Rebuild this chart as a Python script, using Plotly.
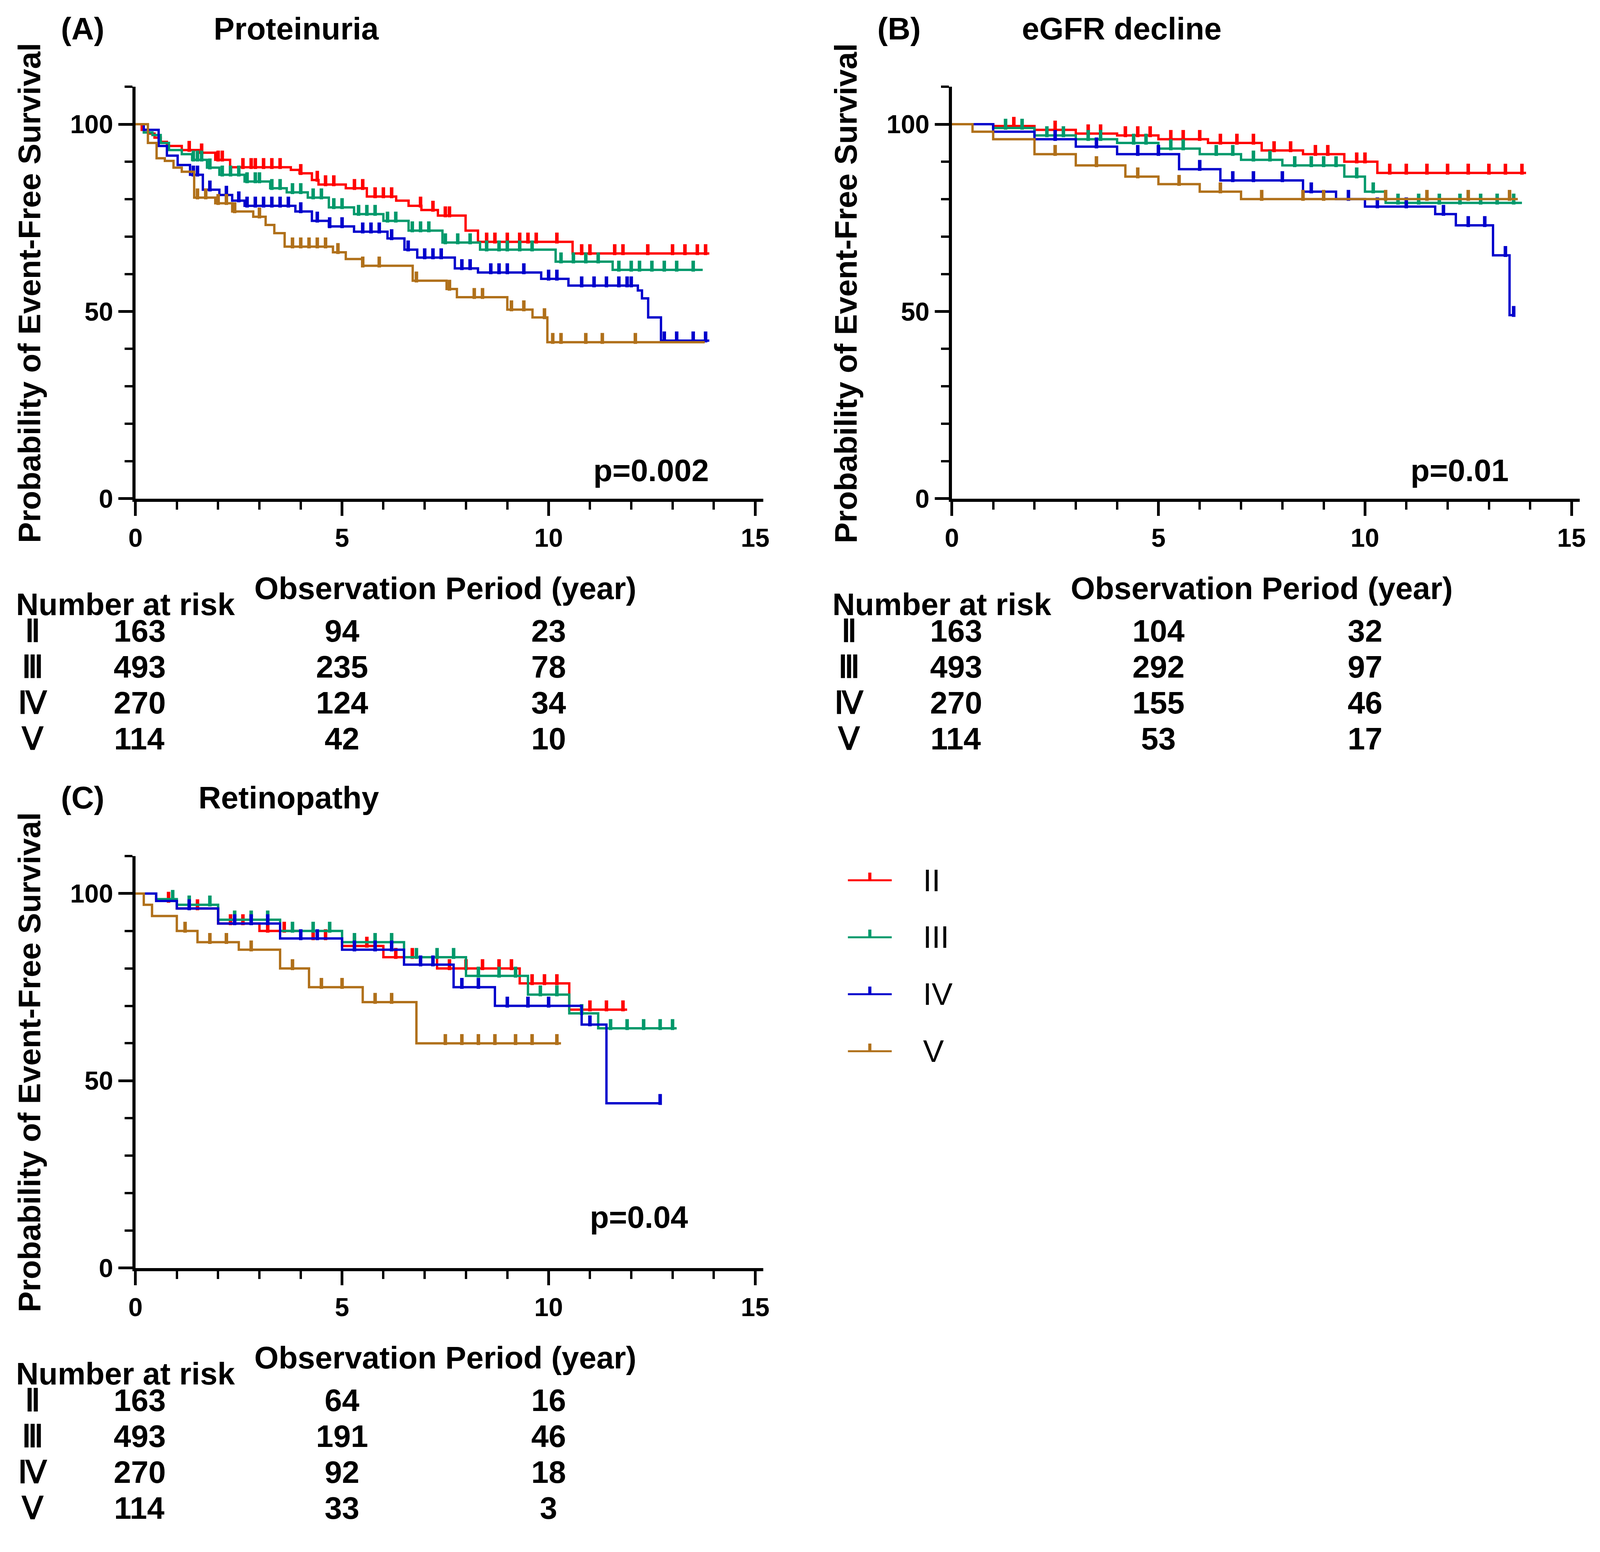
import numpy as np
import plotly.graph_objects as go

W, H = 4124, 3974
COLORS = {"II": "#FF0000", "III": "#00996B", "IV": "#0000CC", "V": "#B0701A"}
GROUPS = ["II", "III", "IV", "V"]
ROMAN_TABLE = ["Ⅱ", "Ⅲ", "Ⅳ", "Ⅴ"]

# ---- Panel A: Proteinuria ----
a_t = {
    "II": [0, 0.15, 0.31, 0.46, 0.61, 0.76, 1.12, 1.53, 1.93, 2.29, 3.76, 3.97, 4.27, 4.43, 5.09, 5.6, 6.31, 6.61, 6.92, 7.32, 7.99, 8.29, 10.58, 13.89],
    "III": [0, 0.2, 0.41, 0.61, 0.81, 1.12, 1.37, 1.73, 2.03, 2.64, 3.26, 3.66, 4.17, 4.68, 5.29, 6.0, 6.61, 7.43, 8.34, 10.17, 11.55, 13.73],
    "IV": [0, 0.2, 0.56, 0.76, 1.02, 1.32, 1.63, 2.03, 2.34, 2.64, 3.87, 4.27, 4.68, 5.29, 6.1, 6.51, 6.82, 7.73, 8.29, 9.82, 10.48, 12.16, 12.26, 12.41, 12.72, 13.89],
    "V": [0, 0.3, 0.51, 0.71, 0.92, 1.12, 1.42, 1.93, 2.34, 2.85, 3.15, 3.36, 3.61, 4.78, 5.09, 5.49, 6.71, 7.53, 7.78, 9.0, 9.61, 9.97, 13.78],
}
a_s = {
    "II": [100, 98.5, 97.5, 96.4, 95.3, 94.2, 93.1, 92.4, 90.5, 88.5, 87.8, 86.9, 85.1, 83.9, 82.9, 80.7, 79.6, 78.2, 77.1, 75.6, 71.6, 68.6, 65.5, 65.5],
    "III": [100, 97.8, 97.1, 95.0, 93.1, 92.0, 90.5, 88.4, 86.5, 84.7, 82.9, 81.8, 80.4, 77.8, 76.0, 74.2, 71.6, 68.4, 66.5, 63.3, 61.1, 61.1],
    "IV": [100, 98.5, 94.2, 91.6, 89.1, 86.5, 82.5, 81.1, 79.6, 78.2, 76.7, 74.2, 72.7, 71.3, 69.5, 66.5, 64.4, 61.5, 60.4, 58.7, 56.9, 55.6, 53.5, 48.4, 42.2, 42.2],
    "V": [100, 95.0, 90.9, 90.2, 88.4, 87.3, 80.4, 78.9, 76.7, 75.3, 73.1, 70.9, 67.3, 65.8, 64.0, 62.2, 58.2, 56.0, 53.8, 50.5, 48.4, 41.8, 41.8],
}
a_c = {
    "II": [1.3, 1.6, 2.0, 2.1, 2.6, 2.8, 2.9, 3.1, 3.3, 3.5, 4.0, 4.4, 4.6, 4.8, 5.3, 5.5, 5.8, 6.0, 6.2, 6.9, 7.2, 7.5, 7.6, 8.5, 8.7, 9.0, 9.3, 9.5, 9.7, 10.2, 10.8, 11.0, 11.6, 11.8, 12.4, 13.0, 13.3, 13.6, 13.8],
    "III": [1.4, 1.5, 1.6, 1.8, 2.1, 2.3, 2.5, 2.7, 2.9, 3.0, 3.3, 3.5, 3.8, 4.0, 4.3, 4.5, 4.8, 5.0, 5.4, 5.6, 5.8, 6.1, 6.3, 6.7, 6.9, 7.1, 7.5, 7.8, 8.1, 8.5, 8.8, 9.0, 9.3, 9.6, 10.3, 10.6, 10.9, 11.2, 11.7, 12.0, 12.2, 12.5, 12.8, 13.1, 13.5],
    "IV": [1.4, 1.5, 1.8, 2.2, 2.5, 2.7, 2.9, 3.1, 3.3, 3.5, 3.7, 4.0, 4.4, 4.7, 5.0, 5.5, 5.7, 5.9, 6.2, 6.6, 7.0, 7.2, 7.4, 7.9, 8.1, 8.6, 8.8, 9.0, 9.4, 10.0, 10.2, 10.8, 11.1, 11.4, 11.7, 11.9, 12.0, 12.8, 13.1, 13.5, 13.8],
    "V": [1.5, 1.7, 2.0, 2.2, 2.4, 3.0, 3.8, 4.0, 4.2, 4.4, 4.6, 4.9, 5.5, 5.9, 6.8, 7.6, 8.2, 8.4, 9.1, 9.4, 9.9, 10.1, 10.3, 10.9, 11.3, 12.1],
}
a_risk = [[163, 94, 23], [493, 235, 78], [270, 124, 34], [114, 42, 10]]

# ---- Panel B: eGFR decline ----
b_t = {
    "II": [0, 1.0, 2.0, 3.0, 4.0, 5.0, 6.2, 7.5, 8.5, 9.5, 10.3, 13.9],
    "III": [0, 1.0, 2.0, 3.0, 4.0, 5.0, 6.0, 7.0, 8.0, 9.5, 10.0, 10.5, 13.8],
    "IV": [0, 1.0, 2.0, 3.0, 4.0, 5.5, 6.5, 8.5, 9.3, 10.0, 11.7, 12.2, 13.1, 13.5, 13.6],
    "V": [0, 0.5, 1.0, 2.0, 3.0, 4.2, 5.0, 6.0, 7.0, 9.5, 13.7],
}
b_s = {
    "II": [100, 99.5, 98.5, 97.5, 97, 96, 95, 93, 92, 90, 87, 87],
    "III": [100, 99, 97, 96, 95, 93.5, 92, 90.5, 89, 86, 82, 79, 79],
    "IV": [100, 98, 96, 94, 92, 88, 85, 82, 80, 78, 76, 73, 65, 49, 49],
    "V": [100, 98, 96, 92, 89, 86, 84, 82, 80, 80, 80],
}
b_c = {
    "II": [1.5, 2.5, 3.3, 3.6, 4.2, 4.5, 4.8, 5.3, 5.6, 6.0, 6.5, 6.9, 7.3, 7.8, 8.2, 8.8, 9.1, 9.8, 10.0, 10.6, 11.0, 11.5, 12.0, 12.5, 13.0, 13.4, 13.8],
    "III": [1.3, 1.7, 2.3, 2.7, 3.3, 3.6, 4.4, 4.7, 5.3, 5.6, 6.4, 6.8, 7.3, 7.7, 8.3, 8.7, 9.0, 9.3, 9.8, 10.2, 10.8, 11.3, 11.8, 12.3, 12.8, 13.2, 13.6],
    "IV": [2.5, 3.5, 4.5, 5.0, 6.0, 6.8, 7.3, 8.0, 8.7, 9.6, 10.3, 11.0, 11.9, 12.5, 12.9, 13.4, 13.6],
    "V": [2.5, 3.5, 4.5, 5.5, 6.5, 7.5, 8.5, 9.0, 10.5, 11.5, 12.5, 13.5],
}
b_risk = [[163, 104, 32], [493, 292, 97], [270, 155, 46], [114, 53, 17]]

# ---- Panel C: Retinopathy ----
c_t = {
    "II": [0, 0.5, 1.0, 2.0, 3.0, 4.0, 5.0, 6.0, 7.3, 9.3, 10.5, 11.9],
    "III": [0, 0.5, 1.0, 2.0, 3.5, 5.0, 6.5, 8.0, 9.5, 10.5, 11.2, 13.1],
    "IV": [0, 0.5, 1.0, 2.0, 3.5, 5.0, 6.5, 7.7, 8.7, 10.8, 11.4, 12.7],
    "V": [0, 0.2, 0.4, 1.0, 1.5, 2.5, 3.5, 4.2, 5.5, 6.8, 10.3],
}
c_s = {
    "II": [100, 98, 96, 92, 90, 88, 86, 83, 80, 76, 69, 69],
    "III": [100, 98.5, 97, 93, 90, 87, 83, 78, 73, 68, 64, 64],
    "IV": [100, 98, 96, 92, 88, 85, 81, 75, 70, 65, 44, 44],
    "V": [100, 97, 94, 90, 87, 85, 80, 75, 71, 60, 60],
}
c_c = {
    "II": [0.8, 1.5, 2.3, 2.6, 3.2, 3.6, 4.3, 4.6, 5.3, 5.6, 6.3, 6.7, 7.6, 8.0, 8.4, 8.8, 9.1, 9.6, 9.9, 10.2, 11.0, 11.4, 11.8],
    "III": [0.9, 1.3, 1.8, 2.4, 2.8, 3.2, 3.8, 4.3, 4.7, 5.3, 5.8, 6.2, 6.8, 7.3, 7.7, 8.3, 8.8, 9.2, 9.8, 10.2, 10.8, 11.5, 11.9, 12.3, 12.7, 13.0],
    "IV": [1.3, 2.4, 2.8, 3.2, 4.0, 4.4, 5.3, 5.8, 6.2, 6.9, 7.2, 7.9, 8.3, 9.0, 9.5, 10.0, 11.0, 12.7],
    "V": [1.2, 1.8, 2.2, 2.8, 3.8, 4.5, 5.0, 5.8, 6.2, 7.5, 7.9, 8.3, 8.7, 9.2, 9.6, 10.2],
}
c_risk = [[163, 64, 16], [493, 191, 46], [270, 92, 18], [114, 33, 3]]

FONT = "Arial, Liberation Sans, sans-serif"
S = W / 1568.0  # real px per preview px
OX = -8  # small horizontal correction in preview px


def px(x):
    return (x + OX) * S / W


def py(y):
    return 1 - y * S / H


fig = go.Figure()

panels = [
    ("x", "y", a_t, a_s, a_c, a_risk, "(A)", "Proteinuria", "p=0.002", 13.9, 0, 0, 207),
    ("x2", "y2", b_t, b_s, b_c, b_risk, "(B)", "eGFR decline", "p=0.01", 13.5, 801, 0, 1000),
    ("x3", "y3", c_t, c_s, c_c, c_risk, "(C)", "Retinopathy", "p=0.04", 13.4, 0, 756, 192),
]

big = dict(family=FONT, size=80, color="black")
ann = []


def text(x, y, s, xref="paper", yref="paper", xanchor="center", **kw):
    ann.append(dict(x=x, y=y, xref=xref, yref=yref, text="<b>" + s + "</b>", xanchor=xanchor,
                    yanchor="middle", showarrow=False, font=big, **kw))


for xa, ya, tt, ss, cc, risk, tag, title, pval, pxv, dx, dy, tx in panels:
    for g in GROUPS:
        t = np.array(tt[g])
        s = np.array(ss[g])
        fig.add_trace(go.Scatter(x=t, y=s, mode="lines", line=dict(color=COLORS[g], width=6, shape="hv"),
                                 xaxis=xa, yaxis=ya, showlegend=False, hoverinfo="skip"))
        ct = np.array(cc[g])
        cy = s[np.searchsorted(t, ct, side="right") - 1] + 1.0
        fig.add_trace(go.Scatter(x=ct, y=cy, mode="markers",
                                 marker=dict(symbol="line-ns", size=20, line=dict(color=COLORS[g], width=9)),
                                 xaxis=xa, yaxis=ya, showlegend=False, hoverinfo="skip"))
    text(px(57 + dx), py(25 + dy), tag, xanchor="left")
    text(px(tx), py(25 + dy), title, xanchor="left")
    text(pxv, 7.6 if dy == 0 else 13.6, pval, xref=xa, yref=ya, xanchor="right")
    text(px(27 + dx), py(285 + dy), "Probability of Event-Free Survival", textangle=-90)
    text(px(435 + dx), py(575 + dy), "Observation Period (year)")
    text(px(13 + dx), py(591 + dy), "Number at risk", xanchor="left")
    for i, row in enumerate(risk):
        ry = py(617 + 35.3 * i + dy)
        text(px(30 + dx), ry, ROMAN_TABLE[i])
        for j, v in enumerate(row):
            text([0.1, 5, 10][j], ry, "%d" % v, xref=xa)

# legend drawn manually
shapes = []
for i, g in enumerate(GROUPS):
    ly = py(862 + 56 * i)
    shapes.append(dict(type="line", xref="paper", yref="paper", x0=px(830), x1=px(873), y0=ly, y1=ly,
                       line=dict(color=COLORS[g], width=5)))
    shapes.append(dict(type="line", xref="paper", yref="paper", x0=px(851.5), x1=px(851.5), y0=ly, y1=ly + 0.005,
                       line=dict(color=COLORS[g], width=8)))
    ann.append(dict(x=px(903), y=ly, xref="paper", yref="paper", text=g, xanchor="left", yanchor="middle",
                    showarrow=False, font=dict(family=FONT, size=80, color="black")))

tickf = dict(family=FONT, size=66, color="black", weight="bold")
axis_common = dict(range=[0, 15.2], showgrid=False, zeroline=False, showline=True, linecolor="black",
                   linewidth=8, ticks="outside", ticklen=36, tickwidth=7, tickcolor="black",
                   tickvals=[0, 5, 10, 15], tickfont=tickf,
                   minor=dict(ticks="outside", ticklen=20, tickwidth=6, tickcolor="black", dtick=1, tick0=0))
yaxis_common = dict(range=[0, 110], showgrid=False, zeroline=False, showline=True, linecolor="black",
                    linewidth=8, ticks="outside", ticklen=36, tickwidth=7, tickcolor="black",
                    tickvals=[0, 50, 100], tickfont=tickf,
                    minor=dict(ticks="outside", ticklen=20, tickwidth=6, tickcolor="black", dtick=10, tick0=0))

span = px(739) - px(131)
xa_dom = [px(131), px(739) + 0.2 / 15 * span]
xb_dom = [px(932), px(1540) + 0.2 / 15 * span]
yab = [py(487), py(487 - 368 * 1.1)]
yc = [py(1243), py(1243 - 368 * 1.1)]

fig.update_layout(
    width=W, height=H, plot_bgcolor="white", paper_bgcolor="white",
    margin=dict(l=0, r=0, t=0, b=0),
    xaxis=dict(domain=xa_dom, anchor="y", **axis_common),
    yaxis=dict(domain=yab, anchor="x", **yaxis_common),
    xaxis2=dict(domain=xb_dom, anchor="y2", **axis_common),
    yaxis2=dict(domain=yab, anchor="x2", **yaxis_common),
    xaxis3=dict(domain=xa_dom, anchor="y3", **axis_common),
    yaxis3=dict(domain=yc, anchor="x3", **yaxis_common),
    annotations=ann, shapes=shapes,
)

fig.write_html("out.html")
